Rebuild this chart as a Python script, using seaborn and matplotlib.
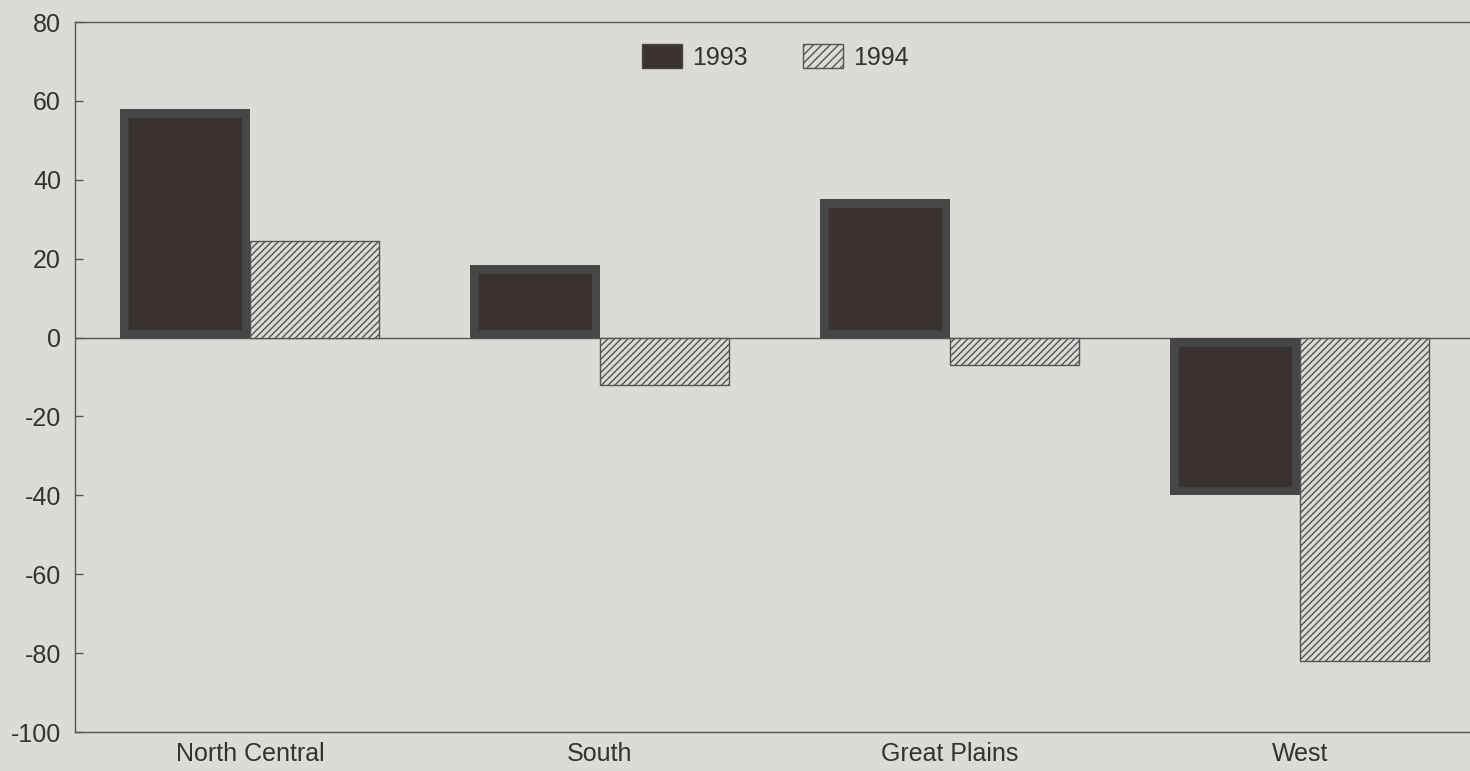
import pandas as pd
import numpy as np
import seaborn as sns
import matplotlib.pyplot as plt
from matplotlib.patches import Patch

sns.set_theme(style="white")
plt.rcParams['font.family'] = ['Liberation Sans', 'DejaVu Sans']
plt.rcParams['hatch.linewidth'] = 1.0
plt.rcParams['axes.unicode_minus'] = False

# data
regions = ['North Central', 'South', 'Great Plains', 'West']
vals_1993 = [58, 18.5, 35, -40]
vals_1994 = [24.5, -12, -7, -82]
years = ['1993', '1994']

df = pd.DataFrame({
    'region': regions * 2,
    'year': ['1993'] * 4 + ['1994'] * 4,
    'value': vals_1993 + vals_1994,
})

bg = '#dddbd7'
dark = '#3a3131'
border = '#464646'
fig = plt.figure(figsize=(14.7, 7.71), dpi=100, facecolor=bg)
ax = fig.add_axes([75 / 1470, 1 - 732 / 771, 1 - 75 / 1470, (732 - 22) / 771])
ax.set_facecolor(bg)

sns.barplot(data=df, x='region', y='value', hue='year', order=regions,
            hue_order=years, width=0.74, palette=[dark, bg],
            ax=ax, legend=False, saturation=1)

# thick border kept inside the 1993 bars
for p in ax.containers[0]:
    p.set_edgecolor(border)
    p.set_linewidth(12)
    p.set_clip_path(p)
for p in ax.containers[1]:
    p.set_edgecolor('#555555')
    p.set_hatch('/////')
    p.set_linewidth(1)

ax.axhline(0, color='#555555', lw=1, zorder=0)

ax.set_ylim(-100, 80)
ax.set_xlim(-0.5, 3.486)
ax.set_yticks(np.arange(-100, 81, 20))
ax.set_xlabel('')
ax.set_ylabel('')
ax.tick_params(axis='y', direction='in', length=6, width=1, color='#555555',
               labelsize=18, labelcolor='#333333', pad=10, left=True)
ax.tick_params(axis='x', length=0, labelsize=18, labelcolor='#333333', pad=7)

for s in ['left', 'top', 'bottom']:
    ax.spines[s].set_color('#555555')
    ax.spines[s].set_linewidth(1)
ax.spines['right'].set_visible(False)

handles = [Patch(facecolor=dark, edgecolor=border, linewidth=1),
           Patch(facecolor=bg, edgecolor='#555555', hatch='////', linewidth=1)]
ax.legend(handles, years, loc='center', bbox_to_anchor=(0.502, 0.951),
          ncol=2, frameon=False, fontsize=18, handlelength=1.6, handleheight=1.1,
          handletextpad=0.4, columnspacing=2.2, labelcolor='#333333')

fig.savefig('out.png', dpi=100, facecolor=bg)
